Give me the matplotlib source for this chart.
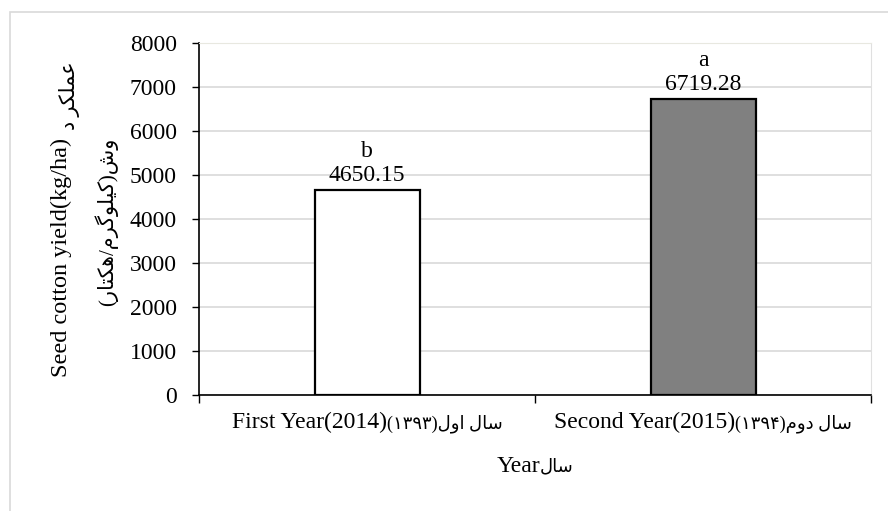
import matplotlib
matplotlib.use('Agg')
import matplotlib.pyplot as plt
from matplotlib.patches import Rectangle
from matplotlib.offsetbox import TextArea, HPacker, AnnotationBbox
import numpy as np

# Persian words in presentation forms, visual (left-to-right) order
SAL = '\uFEDD\uFE8E\uFEB3'            # سال
AVAL = '\uFEDD\uFEED\uFE8D'           # اول
DOVOM = '\uFEE1\uFEED\uFEA9'          # دوم
AMALKARD = '\uFEA9 \uFEAE\uFB91\uFEE0\uFEE4\uFECB'   # عملکر د
VASH = '\uFEB5\uFEED'                 # وش
KILOGRAM = '\uFEE1\uFEAE\uFB94\uFEEE\uFEE0\uFBFF\uFB90'  # کیلوگرم
HECTAR = '\uFEAD\uFE8E\uFE98\uFB91\uFEEB'             # هکتار

# data
years_en = ['First Year(2014)', 'Second Year(2015)']
years_fa = ['(\u06F1\u06F3\u06F9\u06F3)' + AVAL + ' ' + SAL,
            '(\u06F1\u06F3\u06F9\u06F4)' + DOVOM + ' ' + SAL]
yield_kg = [4650.15, 6719.28]
letters = ['b', 'a']
bar_colors = ['white', '#808080']

FONT = ['Liberation Serif', 'DejaVu Sans']
plt.rcParams['font.family'] = FONT

fig = plt.figure(figsize=(8.88, 5.11), dpi=100)
# light chart-area border
fig.patches.append(Rectangle((10 / 888, -0.1), 1.2, 1.1 - 12 / 511,
                             transform=fig.transFigure, fill=False,
                             edgecolor='#d9d9d9', linewidth=1.2))

ax = fig.add_axes([199 / 888, 1 - 395 / 511, 672 / 888, 352 / 511])
x = np.arange(len(yield_kg))
ax.bar(x, yield_kg, width=0.3125, color=bar_colors, edgecolor='black',
       linewidth=1.6, zorder=3)

for xi, v, l in zip(x, yield_kg, letters):
    ax.annotate(f'{l}\n{v:.2f}', (xi, v), xytext=(0, 3), textcoords='offset points',
                ha='center', va='bottom', fontsize=17, linespacing=1.2)

ax.set_xlim(-0.5, 1.5)
ax.set_ylim(0, 8000)
ax.set_yticks(range(0, 8001, 1000))
ax.tick_params(axis='y', labelsize=17, length=5, width=1, direction='out', pad=11)
ax.grid(axis='y', color='#d9d9d9', linewidth=1.2, zorder=0)

ax.set_xticks([-0.5, 0.5, 1.5])
ax.set_xticklabels([])
ax.tick_params(axis='x', which='major', length=6, width=1, direction='out')

# category labels: latin part + smaller persian part
for xi, en, fa in zip(x, years_en, years_fa):
    box = HPacker(children=[TextArea(en, textprops=dict(fontsize=17)),
                            TextArea(fa, textprops=dict(fontsize=13))],
                  align='baseline', pad=0, sep=0)
    ab = AnnotationBbox(box, (xi, 0), xycoords=('data', 'axes fraction'),
                        xybox=(0, -20), boxcoords='offset points',
                        box_alignment=(0.5, 0.5), frameon=False, annotation_clip=False)
    ax.add_artist(ab)

for s in ['left', 'bottom']:
    ax.spines[s].set_color('black')
    ax.spines[s].set_linewidth(1.2)
ax.spines['top'].set_color('#e8e8e0')
ax.spines['right'].set_color('#e0e0e0')

# x axis title
xbox = HPacker(children=[TextArea('Year', textprops=dict(fontsize=17)),
                         TextArea(SAL, textprops=dict(fontsize=13))],
               align='baseline', pad=0, sep=0)
fig.add_artist(AnnotationBbox(xbox, (535 / 888, 1 - 466 / 511), xycoords='figure fraction',
                              box_alignment=(0.5, 0.5), frameon=False))

# y axis title (two lines)
fig.text(61 / 888, 1 - 377 / 511, 'Seed cotton yield(kg/ha)',
         rotation=90, ha='center', va='bottom', fontsize=17.5)
fig.text(69 / 888, 1 - 130 / 511, AMALKARD,
         rotation=90, ha='center', va='bottom', fontsize=15)
fig.text(106 / 888, 1 - 222 / 511, '(' + HECTAR + '/' + KILOGRAM + ')' + VASH,
         rotation=90, ha='center', va='center', fontsize=15)

fig.savefig('out.png', dpi=100)
